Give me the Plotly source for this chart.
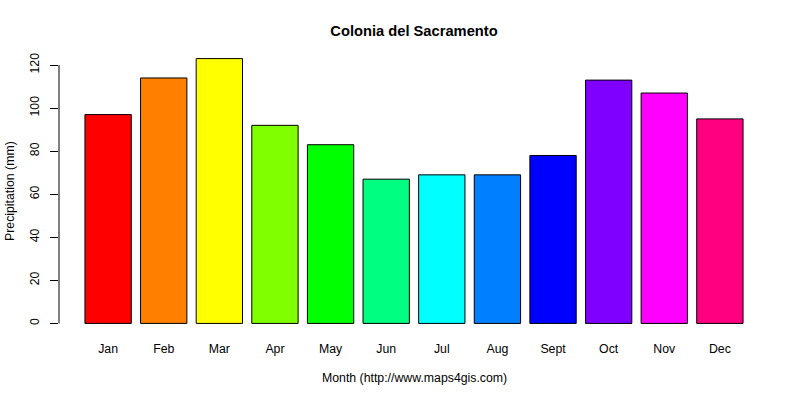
import plotly.graph_objects as go

months = ["Jan", "Feb", "Mar", "Apr", "May", "Jun", "Jul", "Aug", "Sept", "Oct", "Nov", "Dec"]
precip = [97, 114, 123, 92, 83, 67, 69, 69, 78, 113, 107, 95]
colors = ["#FF0000", "#FF8000", "#FFFF00", "#80FF00", "#00FF00", "#00FF80",
          "#00FFFF", "#0080FF", "#0000FF", "#8000FF", "#FF00FF", "#FF0080"]
yticks = [0, 20, 40, 60, 80, 100, 120]

font = "Liberation Sans, Arial, sans-serif"
fs = 12.3

fig = go.Figure(go.Bar(
    x=list(range(len(months))), y=precip, width=0.833,
    marker=dict(color=colors, line=dict(color="black", width=1)),
))

fig.update_layout(
    width=800, height=400,
    margin=dict(l=59, r=31, t=48, b=66, autoexpand=False),
    paper_bgcolor="white", plot_bgcolor="white",
    showlegend=False,
    font=dict(family=font, size=fs, color="black"),
    title=dict(text="<b>Colonia del Sacramento</b>", x=0.5, xanchor="center",
               xref="paper",
               y=1 - 31 / 400, yanchor="middle", font=dict(size=14.7)),
)
fig.update_xaxes(
    range=[-0.883, 11.883], tickmode="array",
    tickvals=list(range(len(months))), ticktext=months,
    showline=False, showgrid=False, zeroline=False, ticks="",
    ticklabelstandoff=6, automargin=False,
)
fig.update_yaxes(
    range=[-4.92, 127.92], tickmode="array", tickvals=yticks,
    ticktext=[str(v) for v in yticks], tickangle=-90,
    showline=False, showgrid=False, zeroline=False,
    ticks="outside", ticklen=8, tickcolor="black", tickwidth=1,
    ticklabelstandoff=6, automargin=False,
)
fig.add_shape(type="line", xref="paper", yref="y", x0=0, x1=0,
              y0=yticks[0], y1=yticks[-1], line=dict(color="black", width=1))

# axis titles placed as annotations (R-style margins)
fig.add_annotation(text="Month (http://www.maps4gis.com)", xref="paper", yref="paper",
                   x=0.5, y=-(378 - 334) / 286, xanchor="center", yanchor="middle",
                   showarrow=False, font=dict(size=fs))
fig.add_annotation(text="Precipitation (mm)", xref="paper", yref="paper",
                   x=-(59 - 10) / 710, y=0.5, xanchor="center", yanchor="middle",
                   textangle=-90, showarrow=False, font=dict(size=fs))

fig.write_html("out.html")
